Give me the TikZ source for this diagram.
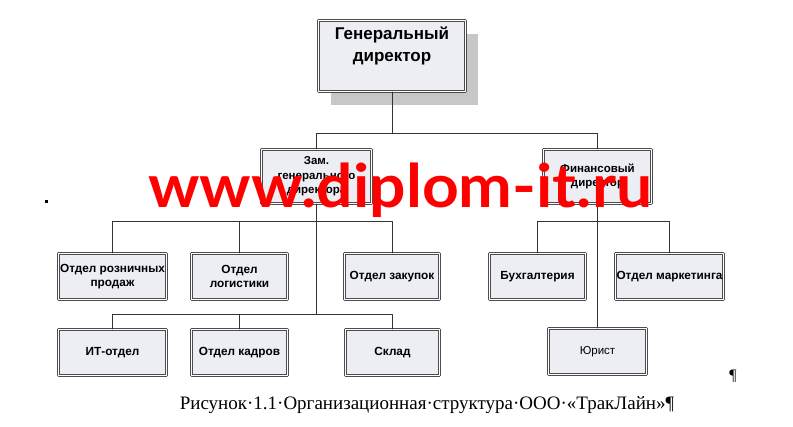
\documentclass[tikz,border=0pt]{standalone}
\usepackage{fontspec}
\setmainfont{Liberation Serif}
\setsansfont{Liberation Sans}
\newfontfamily\wmfont{Lato}
\usetikzlibrary{shadows}
\definecolor{boxfill}{HTML}{ECEEF4}
\begin{document}
\begin{tikzpicture}[x=1pt, y=-1pt, line join=round, line cap=round,
	unit/.style={draw=black!70, double=white, double distance=1pt, line width=1pt, fill=boxfill, inner sep=1pt, align=center, minimum height=46pt, font=\sffamily\bfseries\fontsize{11.8}{13.5}\selectfont},
	link/.style={draw=black!80, line width=.9pt}]
	\useasboundingbox (0,0) rectangle (793,426);
	% top level
	\node[unit, minimum width=147pt, minimum height=71pt, drop shadow={shadow xshift=12pt, shadow yshift=-13pt, fill=black!22, opacity=1}] (gd) at (392,56) {};
	\node[font=\sffamily\bfseries\fontsize{17}{22}\selectfont, align=center] (gdt) at (392,46) {Генеральный\\директор};
	\node[unit, minimum width=110pt, minimum height=54pt, font=\sffamily\bfseries\fontsize{11.5}{14.5}\selectfont] (zam) at (316.5,176.5) {Зам.\\генерального\\директора};
	\node[unit, minimum width=108pt, minimum height=54pt, font=\sffamily\bfseries\fontsize{11.5}{13.5}\selectfont] (fin) at (597.5,176.5) {Финансовый\\директор};
	% departments
	\node[unit, minimum width=108pt] (rozn) at (112.5,276.5) {Отдел розничных\\продаж};
	\node[unit, minimum width=96pt] (logist) at (239.5,276.5) {Отдел\\логистики};
	\node[unit, minimum width=95pt] (zakup) at (392,276.5) {Отдел закупок};
	\node[unit, minimum width=108pt] (it) at (112.5,352.5) {ИТ-отдел};
	\node[unit, minimum width=96pt] (kadr) at (239.5,352.5) {Отдел кадров};
	\node[unit, minimum width=94pt] (sklad) at (392.5,352.5) {Склад};
	\node[unit, minimum width=96pt] (buh) at (537.5,276.5) {Бухгалтерия};
	\node[unit, minimum width=108pt] (mark) at (669.5,276.5) {Отдел маркетинга};
	\node[unit, minimum width=98pt, font=\sffamily\fontsize{11.5}{13}\selectfont] (jur) at (597.5,351.5) {Юрист};
	% connectors
	\coordinate (b0) at (392,133);
	\coordinate (b1) at (316.5,221);
	\coordinate (b2) at (316.5,314);
	\coordinate (b3) at (597.5,221);
	\draw[link] (gd) -- (b0);
	\foreach \n in {zam,fin} \draw[link] (b0) -| (\n);
	\draw[link] (zam) -- (b2);
	\foreach \n in {rozn,logist,zakup} \draw[link] (b1) -| (\n);
	\foreach \n in {it,kadr,sklad} \draw[link] (b2) -| (\n);
	\foreach \n in {buh,mark} \draw[link] (b3) -| (\n);
	\draw[link] (fin) -- (jur);
	% page marks and caption
	\fill (44.5,199.5) rectangle (47.5,202.5);
	\node[font=\fontsize{16}{18}\selectfont] (pil) at (733,376) {¶};
	\node[font=\fontsize{19}{21}\selectfont, anchor=base] (cap) at (427,409) {Рисунок·1.1·Организационная·структура·ООО·«ТракЛайн»¶};
	% watermark
	\node[anchor=base west, inner sep=0, text=red, xscale=1.07, transform shape, font=\wmfont\bfseries\fontsize{60}{62}\selectfont] (wm) at (148,207) {www.diplom-it.ru};
\end{tikzpicture}
\end{document}
